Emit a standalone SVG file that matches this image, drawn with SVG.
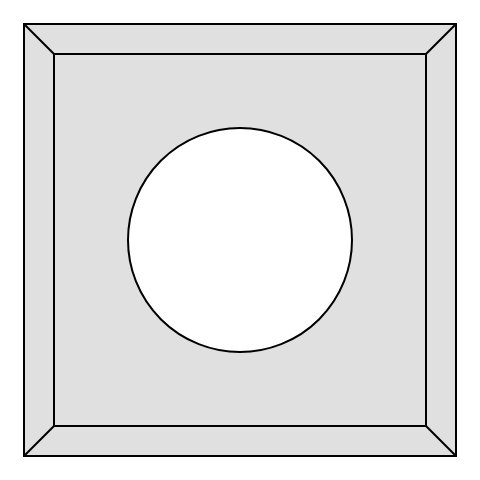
<svg xmlns="http://www.w3.org/2000/svg" width="480" height="480" viewBox="0 0 480 480">
<style>
.s{fill:#e0e0e0;stroke:#000;stroke-width:2}
.l{stroke:#000;stroke-width:2;fill:none}
</style>
<rect width="480" height="480" fill="#fff"/>
<g id="frame">
<rect class="s" x="24" y="24" width="432" height="432"/>
<rect class="s" x="54" y="54" width="372" height="372"/>
<path class="l" d="M24 24 L54 54 M456 24 L426 54 M24 456 L54 426 M456 456 L426 426"/>
</g>
<g id="hole">
<circle cx="240" cy="240" r="112" fill="#fff" stroke="#000" stroke-width="2"/>
</g>
</svg>
